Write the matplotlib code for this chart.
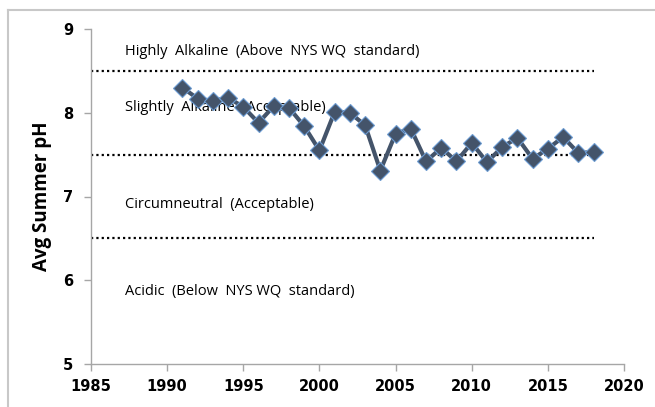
import matplotlib
matplotlib.use("Agg")
import matplotlib.pyplot as plt
from matplotlib.lines import Line2D

plt.rcParams['font.family'] = ['Open Sans', 'DejaVu Sans']

years = list(range(1991, 2019))
ph = [8.30, 8.17, 8.14, 8.18, 8.07, 7.88, 8.08, 8.06, 7.84, 7.55,
      8.01, 8.00, 7.85, 7.31, 7.75, 7.81, 7.42, 7.58, 7.42, 7.64,
      7.41, 7.59, 7.70, 7.45, 7.57, 7.71, 7.52, 7.53]

limit_years = [1985, 2018]
limits = [8.5, 7.5, 6.5]

xticks = [1985, 1990, 1995, 2000, 2005, 2010, 2015, 2020]
yticks = [5, 6, 7, 8, 9]

zones = ["Highly  Alkaline  (Above  NYS WQ  standard)",
         "Slightly  Alkaline  (Acceptable)",
         "Circumneutral  (Acceptable)",
         "Acidic  (Below  NYS WQ  standard)"]
zone_y = [8.73, 8.06, 6.90, 5.86]

tick_font = dict(family="DejaVu Sans", weight="bold", fontsize=10.5)

fig = plt.figure(figsize=(6.55, 4.07), dpi=100)
ax = fig.add_axes([91 / 655, 1 - 364 / 407, 533 / 655, 335 / 407])

for lim in limits:
    ax.plot(limit_years, [lim, lim], color="black", lw=1.6,
            linestyle=(0, (1, 1.4)), dash_capstyle="butt", zorder=2)

ax.plot(years, ph, color="#44546a", lw=3, marker="D", markersize=9,
        markerfacecolor="#44546a", markeredgecolor="#6b9bd2",
        markeredgewidth=0.8, zorder=3)

for txt, yv in zip(zones, zone_y):
    ax.text(1987.2, yv, txt, fontsize=10.5, va="center", ha="left", zorder=1)

for s in ["top", "right"]:
    ax.spines[s].set_visible(False)
for s in ["left", "bottom"]:
    ax.spines[s].set_color("#a6a6a6")
    ax.spines[s].set_linewidth(1)
ax.tick_params(axis="both", colors="#a6a6a6", length=5, width=1,
               labelcolor="black", direction="out")
ax.tick_params(axis="y", pad=8)
ax.tick_params(axis="x", pad=6)

ax.set_xlim(1985, 2020)
ax.set_ylim(5, 9)
ax.set_xticks(xticks, [str(v) for v in xticks], **tick_font)
ax.set_yticks(yticks, [str(v) for v in yticks], **tick_font)
ax.set_ylabel("Avg Summer pH", fontsize=13.5, fontweight="bold", labelpad=8)

# outer chart frame (cut off at right and bottom)
fig.add_artist(Line2D([8 / 655, 8 / 655], [0, 1 - 10 / 407],
                      color="#c8c8c8", lw=1.5, transform=fig.transFigure))
fig.add_artist(Line2D([8 / 655, 1], [1 - 10 / 407, 1 - 10 / 407],
                      color="#c8c8c8", lw=1.5, transform=fig.transFigure))

fig.savefig("out.png", dpi=100)
